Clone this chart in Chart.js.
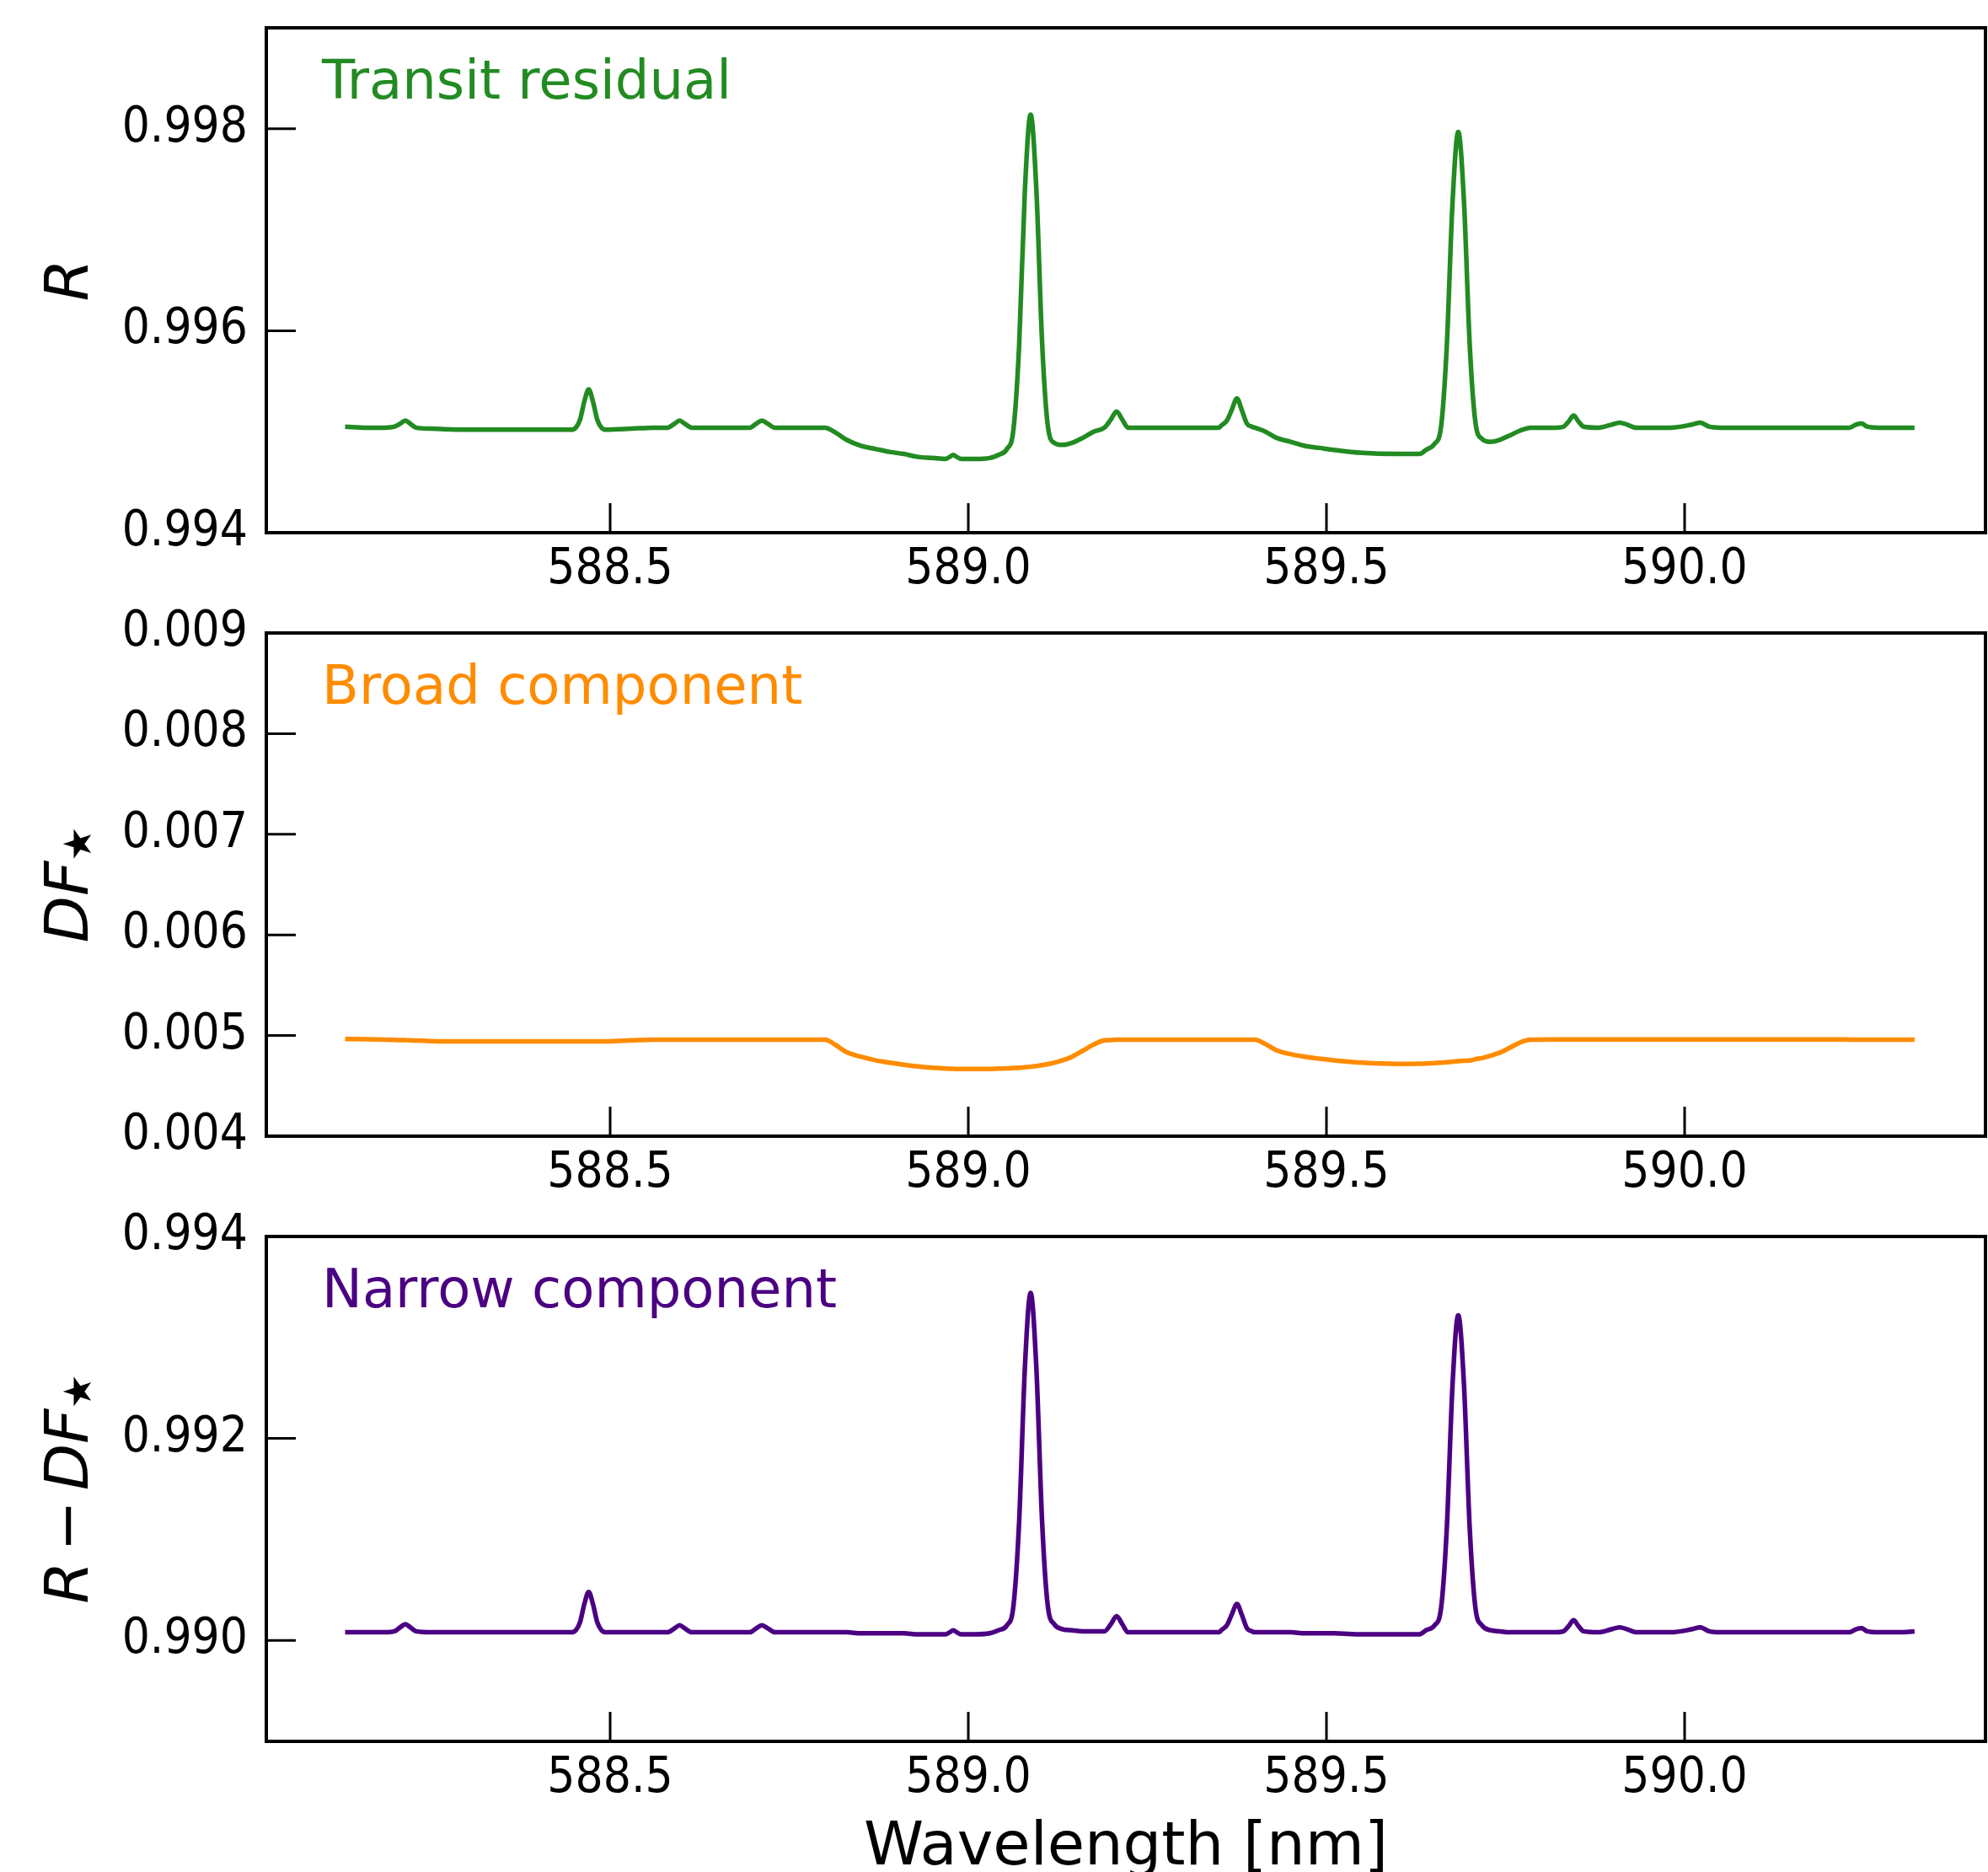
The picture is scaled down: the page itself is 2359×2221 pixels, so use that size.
<!DOCTYPE html>
<html>
<head>
<meta charset="utf-8">
<script src="https://cdn.jsdelivr.net/npm/chart.js@4.4.0/dist/chart.umd.min.js"></script>
<style>
  html, body { margin: 0; padding: 0; background: #fff; }
  body { width: 2359px; height: 2221px; position: relative; overflow: hidden; }
  canvas { position: absolute; left: 0; }
</style>
</head>
<body>
<canvas id="c1" width="2359" height="700" style="top:0px"></canvas>
<canvas id="c2" width="2359" height="720" style="top:700px"></canvas>
<canvas id="c3" width="2359" height="801" style="top:1420px"></canvas>
<script>
// wavelength grid in nm (shared by the three curves)
const wavelength = [
  588.130, 588.160, 588.185, 588.199, 588.207, 588.214, 588.221, 588.229, 588.250, 588.300,
  588.380, 588.446, 588.452, 588.458, 588.464, 588.470, 588.476, 588.482, 588.488, 588.494,
  588.530, 588.560, 588.580, 588.590, 588.597, 588.604, 588.614, 588.650, 588.695, 588.704,
  588.712, 588.720, 588.730, 588.760, 588.800, 588.815, 588.830, 588.850, 588.870, 588.890,
  588.910, 588.930, 588.950, 588.968, 588.974, 588.979, 588.984, 588.990, 589.010, 589.030,
  589.042, 589.054, 589.063, 589.071, 589.079, 589.087, 589.095, 589.103, 589.111, 589.120,
  589.132, 589.145, 589.160, 589.175, 589.190, 589.199, 589.207, 589.215, 589.223, 589.260,
  589.320, 589.350, 589.353, 589.361, 589.368, 589.375, 589.382, 589.389, 589.396, 589.400,
  589.415, 589.430, 589.450, 589.470, 589.490, 589.510, 589.550, 589.600, 589.630, 589.639,
  589.651, 589.660, 589.668, 589.676, 589.684, 589.692, 589.700, 589.708, 589.717, 589.729,
  589.742, 589.755, 589.770, 589.785, 589.820, 589.831, 589.838, 589.845, 589.852, 589.859,
  589.880, 589.898, 589.909, 589.920, 589.932, 589.980, 590.010, 590.022, 590.034, 590.050,
  590.150, 590.230, 590.239, 590.247, 590.255, 590.270, 590.300, 590.321
];

// R, transit residual
const residual = [
  0.99505, 0.99504, 0.99504, 0.99505, 0.99508, 0.99511, 0.99508, 0.99504, 0.99503, 0.99502,
  0.99502, 0.99502, 0.99504, 0.99512, 0.99530, 0.99542, 0.99530, 0.99512, 0.99504, 0.99502,
  0.99503, 0.99504, 0.99504, 0.99508, 0.99511, 0.99508, 0.99504, 0.99504, 0.99504, 0.99508,
  0.99511, 0.99508, 0.99504, 0.99504, 0.99504, 0.99499, 0.99492, 0.99486, 0.99483, 0.99480,
  0.99478, 0.99475, 0.99474, 0.99473, 0.99475, 0.99477, 0.99475, 0.99473, 0.99473, 0.99474,
  0.99477, 0.99483, 0.99502, 0.99586, 0.99739, 0.99814, 0.99740, 0.99589, 0.99506, 0.99489,
  0.99487, 0.99489, 0.99494, 0.99500, 0.99504, 0.99512, 0.99520, 0.99512, 0.99504, 0.99504,
  0.99504, 0.99504, 0.99506, 0.99511, 0.99522, 0.99533, 0.99521, 0.99508, 0.99505, 0.99504,
  0.99500, 0.99494, 0.99490, 0.99486, 0.99484, 0.99482, 0.99479, 0.99478, 0.99478, 0.99482,
  0.99488, 0.99505, 0.99585, 0.99727, 0.99797, 0.99728, 0.99586, 0.99509, 0.99493, 0.99490,
  0.99492, 0.99496, 0.99501, 0.99504, 0.99504, 0.99505, 0.99510, 0.99516, 0.99510, 0.99505,
  0.99504, 0.99507, 0.99509, 0.99507, 0.99504, 0.99504, 0.99507, 0.99509, 0.99505, 0.99504,
  0.99504, 0.99504, 0.99507, 0.99508, 0.99505, 0.99504, 0.99504, 0.99504
];

// DF*, broad component
const broad = [
  0.004965, 0.004963, 0.004958, 0.004956, 0.004955, 0.004954, 0.004953, 0.004950, 0.004945, 0.004942,
  0.004942, 0.004942, 0.004942, 0.004942, 0.004942, 0.004942, 0.004942, 0.004942, 0.004942, 0.004942,
  0.004952, 0.004960, 0.004960, 0.004960, 0.004960, 0.004960, 0.004960, 0.004960, 0.004960, 0.004960,
  0.004960, 0.004960, 0.004960, 0.004960, 0.004958, 0.004905, 0.004835, 0.004790, 0.004755, 0.004730,
  0.004710, 0.004693, 0.004680, 0.004673, 0.004670, 0.004669, 0.004668, 0.004667, 0.004667, 0.004668,
  0.004672, 0.004674, 0.004677, 0.004680, 0.004685, 0.004690, 0.004697, 0.004705, 0.004716, 0.004730,
  0.004755, 0.004790, 0.004850, 0.004910, 0.004952, 0.004955, 0.004958, 0.004958, 0.004958, 0.004958,
  0.004958, 0.004958, 0.004958, 0.004958, 0.004958, 0.004958, 0.004958, 0.004958, 0.004958, 0.004958,
  0.004915, 0.004855, 0.004815, 0.004789, 0.004770, 0.004754, 0.004730, 0.004718, 0.004720, 0.004722,
  0.004727, 0.004730, 0.004735, 0.004740, 0.004745, 0.004750, 0.004752, 0.004765, 0.004776, 0.004800,
  0.004830, 0.004875, 0.004930, 0.004958, 0.004962, 0.004962, 0.004962, 0.004962, 0.004962, 0.004962,
  0.004962, 0.004962, 0.004962, 0.004962, 0.004962, 0.004962, 0.004962, 0.004962, 0.004962, 0.004962,
  0.004962, 0.004960, 0.004960, 0.004960, 0.004960, 0.004960, 0.004960, 0.004958
];

// R - DF*, narrow component
const narrow = [
  0.99008, 0.99008, 0.99008, 0.99009, 0.99013, 0.99016, 0.99013, 0.99009, 0.99008, 0.99008,
  0.99008, 0.99008, 0.99010, 0.99018, 0.99036, 0.99048, 0.99036, 0.99018, 0.99010, 0.99008,
  0.99008, 0.99008, 0.99008, 0.99012, 0.99015, 0.99012, 0.99008, 0.99008, 0.99008, 0.99012,
  0.99015, 0.99012, 0.99008, 0.99008, 0.99008, 0.99008, 0.99008, 0.99007, 0.99007, 0.99007,
  0.99007, 0.99006, 0.99006, 0.99006, 0.99008, 0.99010, 0.99008, 0.99006, 0.99006, 0.99007,
  0.99010, 0.99015, 0.99034, 0.99118, 0.99270, 0.99344, 0.99270, 0.99118, 0.99034, 0.99016,
  0.99011, 0.99010, 0.99009, 0.99009, 0.99009, 0.99016, 0.99024, 0.99016, 0.99008, 0.99008,
  0.99008, 0.99008, 0.99010, 0.99015, 0.99026, 0.99036, 0.99025, 0.99012, 0.99009, 0.99008,
  0.99008, 0.99008, 0.99008, 0.99007, 0.99007, 0.99007, 0.99006, 0.99006, 0.99006, 0.99010,
  0.99015, 0.99032, 0.99111, 0.99253, 0.99322, 0.99253, 0.99111, 0.99032, 0.99015, 0.99010,
  0.99009, 0.99008, 0.99008, 0.99008, 0.99008, 0.99009, 0.99014, 0.99020, 0.99014, 0.99009,
  0.99008, 0.99011, 0.99013, 0.99011, 0.99008, 0.99008, 0.99011, 0.99013, 0.99009, 0.99008,
  0.99008, 0.99008, 0.99011, 0.99012, 0.99009, 0.99008, 0.99008, 0.99009
];

const xTicks = [588.5, 589.0, 589.5, 590.0];
const residualTicks = [0.994, 0.996, 0.998];
const broadTicks = [0.004, 0.005, 0.006, 0.007, 0.008, 0.009];
const narrowTicks = [0.990, 0.992, 0.994];

const FONT = "'DejaVu Sans', sans-serif";
const TICK_FONT = "'DejaVu Sans Condensed', 'DejaVu Sans', sans-serif";
const ITAL = "italic 72px " + FONT;
const STAR = { t: "\u2605", f: "46px " + FONT, dy: 4 };

const panels = [
  { id: "c1", padTop: 33, axisH: 68, values: residual, color: "#228b22",
    yMin: 0.994, yMax: 0.999, yTicks: residualTicks, label: "Transit residual",
    yLabel: [{ t: "R", f: ITAL }] },
  { id: "c2", padTop: 51, axisH: 72, values: broad, color: "#ff8c00",
    yMin: 0.004, yMax: 0.009, yTicks: broadTicks, label: "Broad component",
    yLabel: [{ t: "D", f: ITAL }, { t: "F", f: ITAL }, STAR] },
  { id: "c3", padTop: 47, axisH: 155, values: narrow, color: "#4b0082",
    yMin: 0.989, yMax: 0.994, yTicks: narrowTicks, label: "Narrow component",
    yLabel: [{ t: "R", f: ITAL }, { t: "\u2212", f: "72px " + FONT, pad: 12 },
             { t: "D", f: ITAL }, { t: "F", f: ITAL }, STAR],
    xTitle: "Wavelength [nm]" }
];

// frame, inward ticks and the texts matplotlib-style
const decor = {
  id: "decor",
  afterDraw(chart, args, opts) {
    const ctx = chart.ctx;
    const a = chart.chartArea;
    const xs = chart.scales.x, ys = chart.scales.y;
    ctx.save();
    ctx.strokeStyle = "#000";
    ctx.lineWidth = 3;
    ctx.beginPath();
    xTicks.forEach(v => {
      const px = xs.getPixelForValue(v);
      ctx.moveTo(px, a.bottom);
      ctx.lineTo(px, a.bottom - 35);
    });
    opts.yTicks.forEach(v => {
      const py = ys.getPixelForValue(v);
      ctx.moveTo(a.left, py);
      ctx.lineTo(a.left + 35, py);
    });
    ctx.stroke();
    ctx.lineWidth = 4;
    ctx.strokeRect(a.left, a.top, a.right - a.left, a.bottom - a.top);

    ctx.fillStyle = opts.color;
    ctx.font = "64px " + FONT;
    ctx.textAlign = "left";
    ctx.textBaseline = "alphabetic";
    ctx.fillText(opts.label, 382, a.top + 84);

    // rotated y label
    ctx.fillStyle = "#000";
    let total = 0;
    opts.yLabel.forEach(p => {
      ctx.font = p.f;
      p.w = ctx.measureText(p.t).width + 2 * (p.pad || 0);
      total += p.w;
    });
    ctx.translate(104, (a.top + a.bottom) / 2);
    ctx.rotate(-Math.PI / 2);
    let x = -total / 2;
    opts.yLabel.forEach(p => {
      ctx.font = p.f;
      ctx.fillText(p.t, x + (p.pad || 0), p.dy || 0);
      x += p.w;
    });
    ctx.restore();

    if (opts.xTitle) {
      ctx.save();
      ctx.fillStyle = "#000";
      ctx.font = "72px " + FONT;
      ctx.textAlign = "center";
      ctx.textBaseline = "alphabetic";
      ctx.fillText(opts.xTitle, (a.left + a.right) / 2, 792);
      ctx.restore();
    }
  }
};

panels.forEach(p => {
  new Chart(document.getElementById(p.id), {
    type: "line",
    data: {
      datasets: [{
        data: wavelength.map((w, i) => ({ x: w, y: p.values[i] })),
        borderColor: p.color,
        borderWidth: 5.5,
        pointRadius: 0,
        fill: false,
        cubicInterpolationMode: "monotone"
      }]
    },
    options: {
      responsive: false,
      devicePixelRatio: 1,
      animation: false,
      layout: { padding: { top: p.padTop, right: 3, left: 0, bottom: 0 } },
      plugins: {
        legend: { display: false },
        tooltip: { enabled: false },
        decor: { yTicks: p.yTicks, color: p.color, label: p.label, yLabel: p.yLabel, xTitle: p.xTitle }
      },
      scales: {
        x: {
          type: "linear",
          min: 588.02,
          max: 590.42,
          grid: { display: false, drawTicks: false },
          border: { display: false },
          afterBuildTicks: s => { s.ticks = xTicks.map(v => ({ value: v })); },
          afterFit: s => { s.height = p.axisH; s.paddingLeft = 0; s.paddingRight = 0; },
          ticks: {
            autoSkip: false, maxRotation: 0, padding: 10, color: "#000",
            font: { family: TICK_FONT, size: 58 },
            callback: v => v.toFixed(1)
          }
        },
        y: {
          min: p.yMin,
          max: p.yMax,
          grid: { display: false, drawTicks: false },
          border: { display: false },
          afterBuildTicks: s => { s.ticks = p.yTicks.map(v => ({ value: v })); },
          afterFit: s => { s.width = 316; s.paddingTop = 0; s.paddingBottom = 0; },
          ticks: {
            padding: 22, color: "#000",
            font: { family: TICK_FONT, size: 58 },
            callback: v => v.toFixed(3)
          }
        }
      }
    },
    plugins: [decor]
  });
});
</script>
</body>
</html>
